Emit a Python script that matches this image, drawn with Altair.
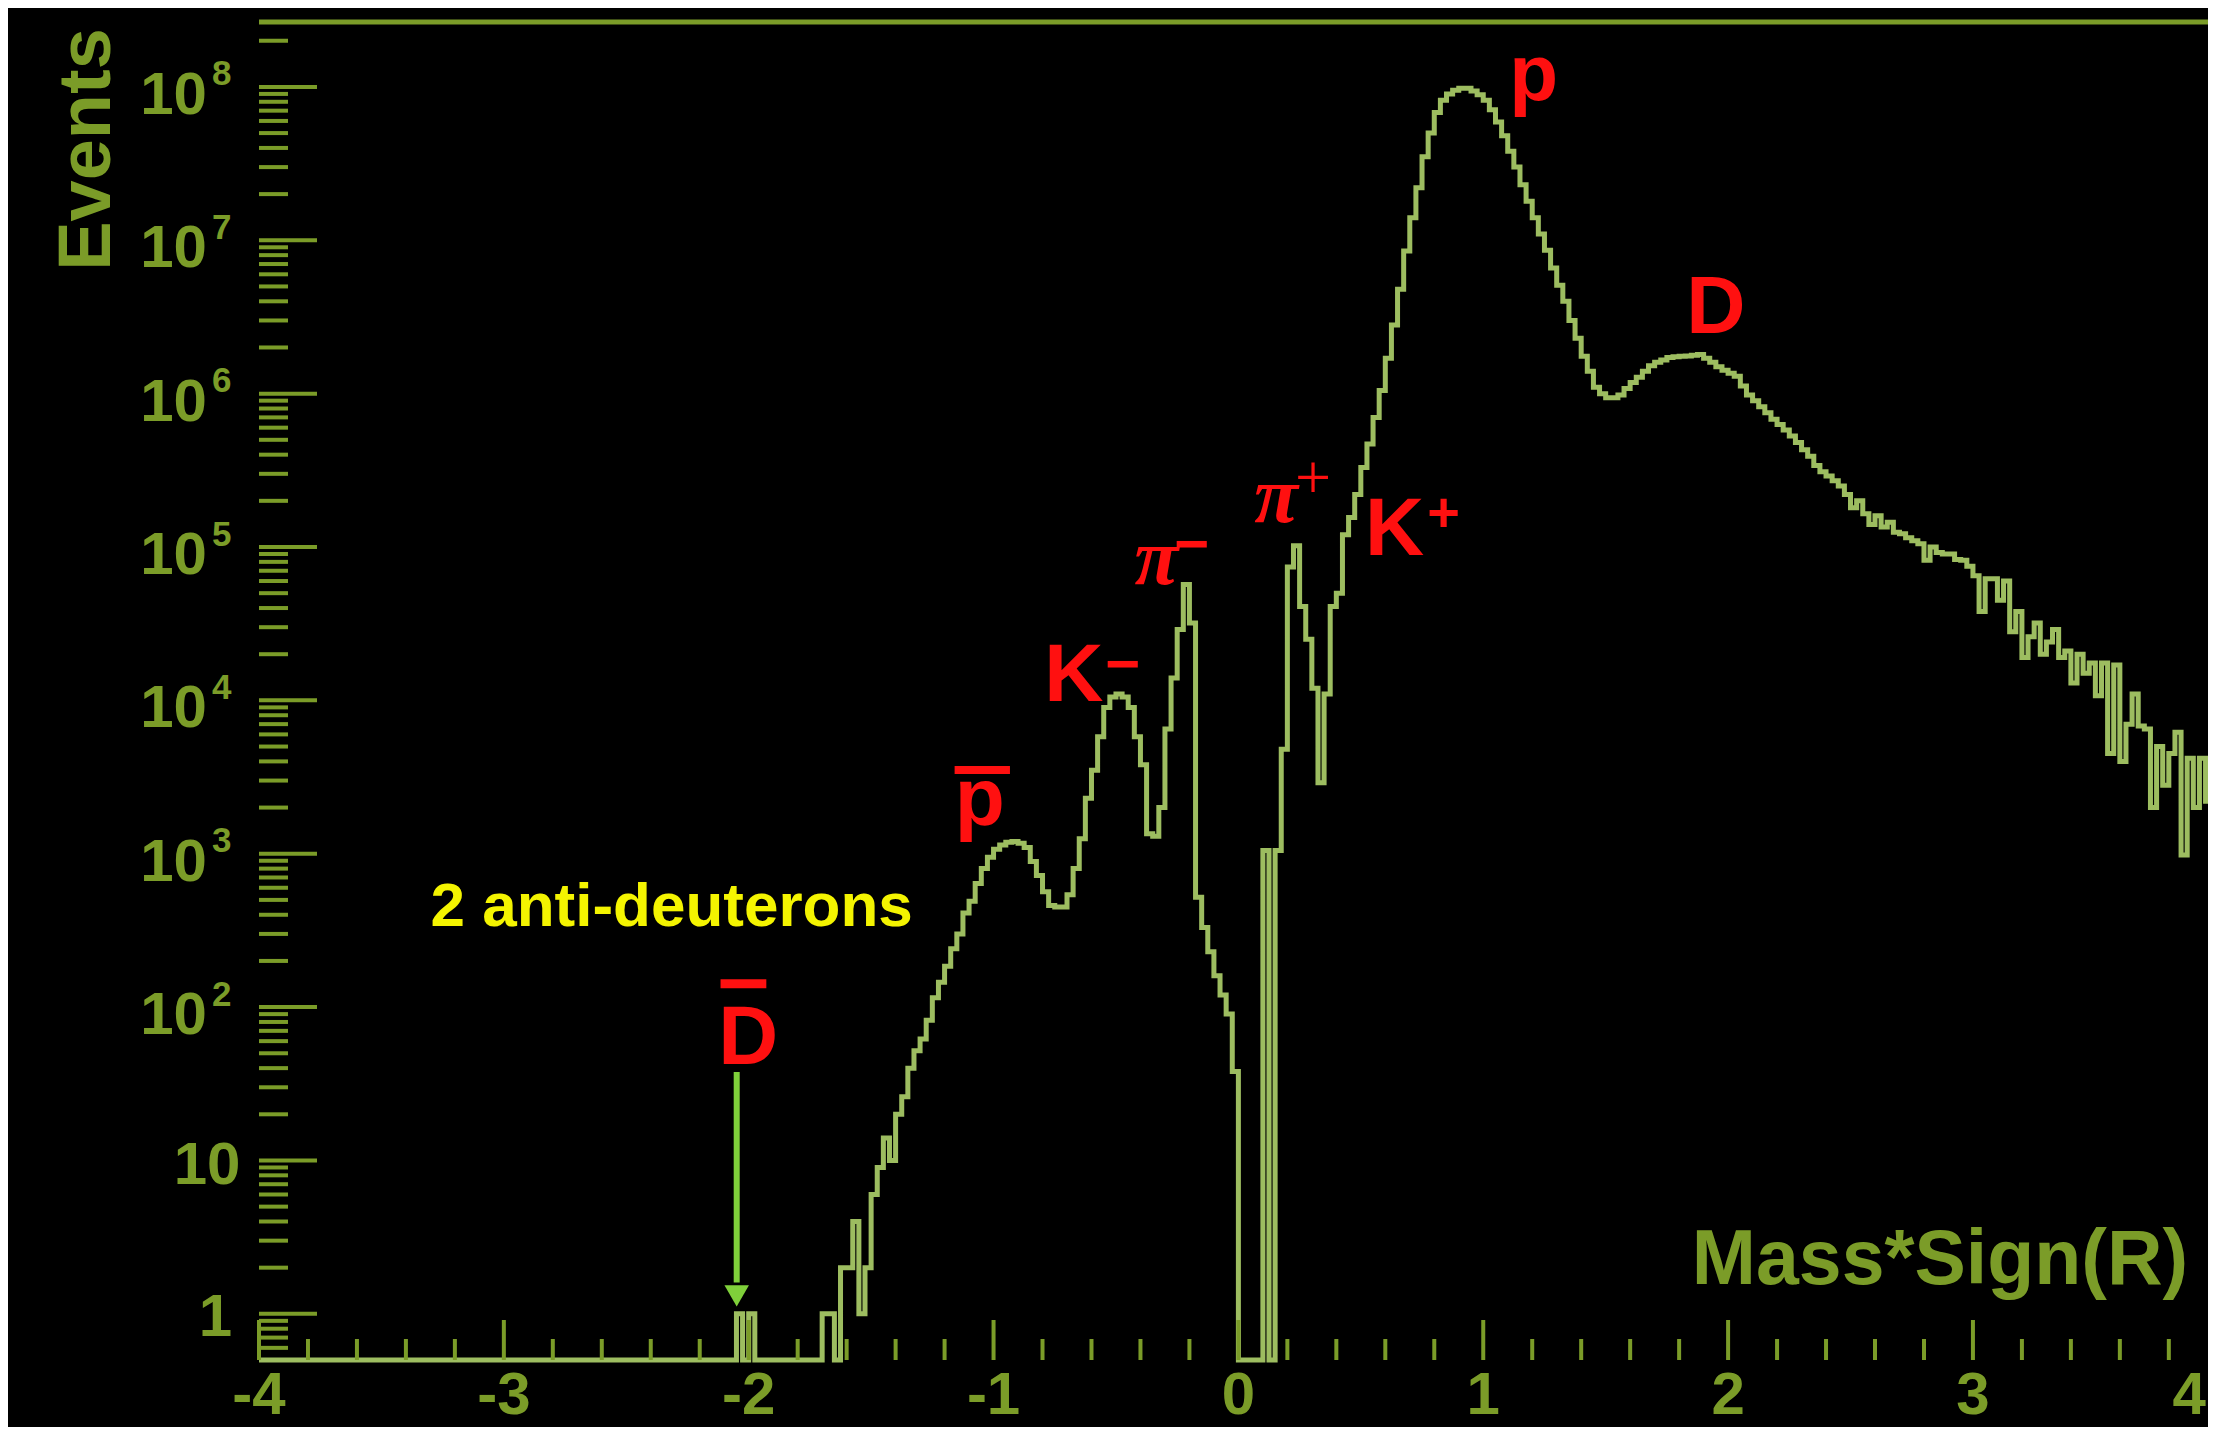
import altair as alt
import pandas as pd

# ------------------------------------------------------------------ style
FONT = "Liberation Sans"
SERIF = "Liberation Serif"
OLIVE = "#7b9c28"
HIST_COLOR = "#9dbd60"
RED = "#ff1010"
YELLOW = "#f4f400"
ARROW = "#7fd03a"

# ------------------------------------------------------------------ data
X_DOMAIN = [-4.0, 3.96]
Y_MIN, Y_MAX = 0.5, 2.65e8

BIN_START = -4.0
BIN_WIDTH = 0.025
# events per bin (left edges -4.000, -3.975, ...); empty bins from -4.0 to -2.1
counts = [0] * 76 + [
    0, 0, 1, 0, 1, 0, 0, 0,                                          # -2.100
    0, 0, 0, 0, 0, 0, 0, 0,                                          # -1.900
    1, 1, 0, 2, 2, 4, 1, 2,                                          # -1.700
    6, 9, 14, 10, 20, 26, 40, 52,                                    # -1.500
    62, 82, 115, 145, 185, 240, 300, 410,                            # -1.300
    490, 640, 800, 950, 1070, 1140, 1190, 1200,                      # -1.100
    1170, 1100, 890, 720, 565, 460, 450, 450,                        # -0.900
    540, 800, 1250, 2300, 3500, 5800, 9000, 10500,                   # -0.700
    11000, 10500, 9000, 5800, 3800, 1350, 1300, 2000,                # -0.500
    6500, 14000, 29000, 57000, 32000, 520, 330, 230,                 # -0.300
    160, 120, 90, 38, 0, 0, 0, 0,                                    # -0.100
    1050, 0, 1050, 4800, 74000, 102000, 41000, 25000,                #  0.100
    12000, 2900, 11000, 41000, 50000, 120000, 156000, 220000,        #  0.300
    3.3e5, 4.7e5, 7.0e5, 1.05e6, 1.7e6, 2.8e6, 4.8e6, 8.5e6,         #  0.500
    1.4e7, 2.2e7, 3.5e7, 5.0e7, 6.8e7, 8.2e7, 9.0e7, 9.5e7,          #  0.700
    9.8e7, 9.8e7, 9.4e7, 8.9e7, 8.2e7, 7.1e7, 5.9e7, 4.8e7,          #  0.900
    3.8e7, 3.0e7, 2.3e7, 1.8e7, 1.4e7, 1.1e7, 8.6e6, 6.6e6,          #  1.100
    5.1e6, 4.0e6, 3.0e6, 2.3e6, 1.75e6, 1.4e6, 1.1e6, 1.0e6,         #  1.300
    9.4e5, 9.4e5, 9.8e5, 1.08e6, 1.18e6, 1.28e6, 1.4e6, 1.52e6,      #  1.500
    1.6e6, 1.66e6, 1.72e6, 1.74e6, 1.75e6, 1.76e6, 1.78e6, 1.8e6,    #  1.700
    1.7e6, 1.6e6, 1.5e6, 1.42e6, 1.36e6, 1.3e6, 1.12e6, 9.8e5,       #  1.900
    9.0e5, 8.2e5, 7.5e5, 6.8e5, 6.3e5, 5.8e5, 5.3e5, 4.8e5,          #  2.100
    4.3e5, 3.9e5, 3.4e5, 3.1e5, 2.9e5, 2.7e5, 2.5e5, 2.2e5,          #  2.300
    1.8e5, 2.0e5, 1.65e5, 1.4e5, 1.6e5, 1.35e5, 1.45e5, 1.25e5,      #  2.500
    1.22e5, 1.15e5, 1.1e5, 1.05e5, 8.2e4, 1.0e5, 9.2e4, 9.0e4,       #  2.700
    9.0e4, 8.3e4, 8.2e4, 7.5e4, 6.5e4, 3.8e4, 6.2e4, 6.2e4,          #  2.900
    4.5e4, 6.0e4, 2.8e4, 3.8e4, 1.9e4, 2.6e4, 3.2e4, 2.0e4,          #  3.100
    2.4e4, 2.9e4, 1.9e4, 2.1e4, 1.3e4, 2.0e4, 1.5e4, 1.75e4,         #  3.300
    1.07e4, 1.75e4, 4.5e3, 1.7e4, 4.0e3, 7.0e3, 1.1e4, 6.8e3,        #  3.500
    6.5e3, 2.0e3, 5.0e3, 2.8e3, 4.5e3, 6.2e3, 980, 4.2e3,            #  3.700
    2.0e3, 4.2e3, 2.2e3, 4.0e3,                                      #  3.900
]

# axis ticks and labels
x_major = [-4, -3, -2, -1, 0, 1, 2, 3, 4]
x_major_labels = ["-4", "-3", "-2", "-1", "0", "1", "2", "3", "4"]
x_minor = [round(-4 + 0.2 * i, 1) for i in range(41) if i % 5]
y_major = [1, 10, 1e2, 1e3, 1e4, 1e5, 1e6, 1e7, 1e8]
y_minor = [m * 10.0 ** k for k in range(-1, 9) for m in range(2, 10)
           if Y_MIN < m * 10.0 ** k < Y_MAX]
y_pow_values = [1e2, 1e3, 1e4, 1e5, 1e6, 1e7, 1e8]
y_pow_base = ["10", "10", "10", "10", "10", "10", "10"]
y_pow_exp = ["2", "3", "4", "5", "6", "7", "8"]

# axis titles (anchor positions in data units)
x_title = ["Mass*Sign(R)"]
x_title_x = [3.879]
x_title_y = [1.56]
y_title = ["Events"]
y_title_x = [-4.608]
y_title_y = [2.415e8]

# annotations (positions in data units)
sans_text = ["p", "D", "K", "+", "K", "\u2212", "p", "D", "\u2212"]
sans_x = [1.106, 1.829, 0.517, 0.771, -0.793, -0.5445, -1.158, -2.124, -0.263]
sans_y = [8.25e7, 2.47e6, 8.84e4, 1.28e5, 9.9e3, 1.285e4, 1545, 42.6, 7.7e4]
sans_fs = [80, 82, 82, 56, 82, 60, 82, 83, 60]
pi_x = [0.065, -0.4245]
pi_y = [1.45e5, 5.78e4]
pi_plus_x = [0.231]
pi_plus_y = [2.05e5]
bar_x = [-1.159, -2.115]
bar_x2 = [-0.933, -1.928]
bar_y = [3.52e3, 141.8]
bar_w = [8, 9]
note_text = ["2 anti-deuterons"]
note_x = [-3.2996]
note_y = [337]
arrow_x = [-2.049]
arrow_top = [37.7]
arrow_base = [1.6]
arrow_head = [1.311]

# ------------------------------------------------------------------ frames
edges = [round(BIN_START + BIN_WIDTH * i, 4) for i in range(len(counts) + 1)]
hist_df = pd.DataFrame({"x": edges, "n": counts + [counts[-1]]})

xs = alt.Scale(domain=X_DOMAIN, nice=False, zero=False)
ys = alt.Scale(type="log", domain=[Y_MIN, Y_MAX], nice=False)


def X(f="x"):
    return alt.X(f"{f}:Q", scale=xs, axis=None)


def Y(f="y"):
    return alt.Y(f"{f}:Q", scale=ys, axis=None)


x_axis = alt.Axis(labels=False, ticks=False, grid=False, domain=True,
                  domainColor=OLIVE, domainWidth=5, title=None)
y_axis = alt.Axis(labels=False, ticks=False, grid=False, domain=True,
                  domainColor=OLIVE, domainWidth=5, title=None)

# ticks (drawn inward, ROOT style)
xt_major = alt.Chart(pd.DataFrame({"x": x_major, "y": Y_MIN})).mark_tick(
    orient="vertical", size=40, thickness=4, yOffset=-20, color=OLIVE, opacity=1
).encode(x=X(), y=Y())
xt_minor = alt.Chart(pd.DataFrame({"x": x_minor, "y": Y_MIN})).mark_tick(
    orient="vertical", size=21, thickness=4, yOffset=-10.5, color=OLIVE, opacity=1
).encode(x=X(), y=Y())
yt_major = alt.Chart(pd.DataFrame({"x": X_DOMAIN[0], "y": y_major})).mark_tick(
    orient="horizontal", size=58, thickness=4, xOffset=29, color=OLIVE, opacity=1
).encode(x=X(), y=Y())
yt_minor = alt.Chart(pd.DataFrame({"x": X_DOMAIN[0], "y": y_minor})).mark_tick(
    orient="horizontal", size=29, thickness=4, xOffset=14.5, color=OLIVE, opacity=1
).encode(x=X(), y=Y())

top_frame = alt.Chart(pd.DataFrame({"x": [-4.0], "x2": [4.0], "y": [Y_MAX]})).mark_rule(
    color=OLIVE, strokeWidth=5
).encode(x=X(), x2="x2:Q", y=Y())

# tick labels
xlab_df = pd.DataFrame({"x": x_major, "y": Y_MIN, "t": x_major_labels})
x_lab = alt.Chart(xlab_df.iloc[:-1]).mark_text(
    align="center", baseline="alphabetic", dy=54, font=FONT, fontSize=60,
    fontWeight="bold", color=OLIVE
).encode(x=X(), y=Y(), text="t:N")
x_lab_last = alt.Chart(xlab_df.iloc[-1:]).mark_text(
    align="right", baseline="alphabetic", dx=-12, dy=54, font=FONT, fontSize=60,
    fontWeight="bold", color=OLIVE
).encode(x=X(), y=Y(), text="t:N")

ypow_df = pd.DataFrame({"x": X_DOMAIN[0], "y": y_pow_values, "b": y_pow_base, "e": y_pow_exp})
y_base = alt.Chart(ypow_df).mark_text(
    align="right", baseline="alphabetic", dx=-52, dy=27, font=FONT, fontSize=60,
    fontWeight="bold", color=OLIVE
).encode(x=X(), y=Y(), text="b:N")
y_exp = alt.Chart(ypow_df).mark_text(
    align="left", baseline="alphabetic", dx=-47, dy=-1.5, font=FONT, fontSize=35,
    fontWeight="bold", color=OLIVE
).encode(x=X(), y=Y(), text="e:N")
y_ten = alt.Chart(pd.DataFrame({"x": [X_DOMAIN[0]], "y": [10.0], "t": ["10"]})).mark_text(
    align="right", baseline="alphabetic", dx=-18.5, dy=24, font=FONT, fontSize=60,
    fontWeight="bold", color=OLIVE
).encode(x=X(), y=Y(), text="t:N")
y_one = alt.Chart(pd.DataFrame({"x": [X_DOMAIN[0]], "y": [1.0], "t": ["1"]})).mark_text(
    align="right", baseline="alphabetic", dx=-27, dy=22.5, font=FONT, fontSize=60,
    fontWeight="bold", color=OLIVE
).encode(x=X(), y=Y(), text="t:N")

# axis titles
x_tit = alt.Chart(pd.DataFrame({"x": x_title_x, "y": x_title_y, "t": x_title})).mark_text(
    align="right", baseline="alphabetic", font=FONT, fontSize=77, fontWeight="bold", color=OLIVE
).encode(x=X(), y=Y(), text="t:N")
y_tit = alt.Chart(pd.DataFrame({"x": y_title_x, "y": y_title_y, "t": y_title})).mark_text(
    align="right", baseline="alphabetic", angle=270, font=FONT, fontSize=74,
    fontWeight="bold", color=OLIVE
).encode(x=X(), y=Y(), text="t:N")

# histogram
hist = alt.Chart(hist_df).transform_calculate(
    yv="datum.n > 0 ? datum.n : 0.5"
).mark_line(
    interpolate="step-after", color=HIST_COLOR, strokeWidth=5, strokeJoin="miter"
).encode(
    x=alt.X("x:Q", scale=xs, axis=x_axis),
    y=alt.Y("yv:Q", scale=ys, axis=y_axis),
)

# annotations
sans_lab = alt.Chart(pd.DataFrame({"x": sans_x, "y": sans_y, "t": sans_text, "fs": sans_fs})).mark_text(
    align="left", baseline="alphabetic", font=FONT, fontWeight="bold", color=RED
).encode(x=X(), y=Y(), text="t:N", size=alt.Size("fs:Q", scale=None, legend=None))
pi_lab = alt.Chart(pd.DataFrame({"x": pi_x, "y": pi_y, "t": "\u03c0"})).mark_text(
    align="left", baseline="alphabetic", font=SERIF, fontStyle="italic", fontWeight="bold",
    fontSize=80, color=RED
).encode(x=X(), y=Y(), text="t:N")
pi_plus = alt.Chart(pd.DataFrame({"x": pi_plus_x, "y": pi_plus_y, "t": "+"})).mark_text(
    align="left", baseline="alphabetic", font=SERIF, fontSize=64, color=RED
).encode(x=X(), y=Y(), text="t:N")
bars = alt.Chart(pd.DataFrame({"x": bar_x, "x2": bar_x2, "y": bar_y, "w": bar_w})).mark_rule(
    color=RED
).encode(x=X(), x2="x2:Q", y=Y(), size=alt.Size("w:Q", scale=None, legend=None))
note = alt.Chart(pd.DataFrame({"x": note_x, "y": note_y, "t": note_text})).mark_text(
    align="left", baseline="alphabetic", font=FONT, fontWeight="bold", fontSize=62, color=YELLOW
).encode(x=X(), y=Y(), text="t:N")
shaft = alt.Chart(pd.DataFrame({"x": arrow_x, "y": arrow_top, "y2": arrow_base})).mark_rule(
    color=ARROW, strokeWidth=6
).encode(x=X(), y=Y(), y2="y2:Q")
head = alt.Chart(pd.DataFrame({"x": arrow_x, "y": arrow_head})).mark_point(
    shape="triangle-down", size=600, filled=True, opacity=1, color=ARROW, strokeWidth=0
).encode(x=X(), y=Y())

chart = alt.layer(
    hist, xt_major, xt_minor, yt_major, yt_minor, top_frame,
    x_lab, x_lab_last, y_base, y_exp, y_ten, y_one, x_tit, y_tit,
    sans_lab, pi_lab, pi_plus, bars, note, shaft, head,
).properties(
    width=1949,
    height=1338,
    autosize=alt.AutoSizeParams(type="none"),
    padding={"left": 251, "top": 14, "right": 0, "bottom": 67},
    background="black",
).configure_view(stroke="transparent")

chart.save("out.html", embed_options={"renderer": "svg", "actions": False})
